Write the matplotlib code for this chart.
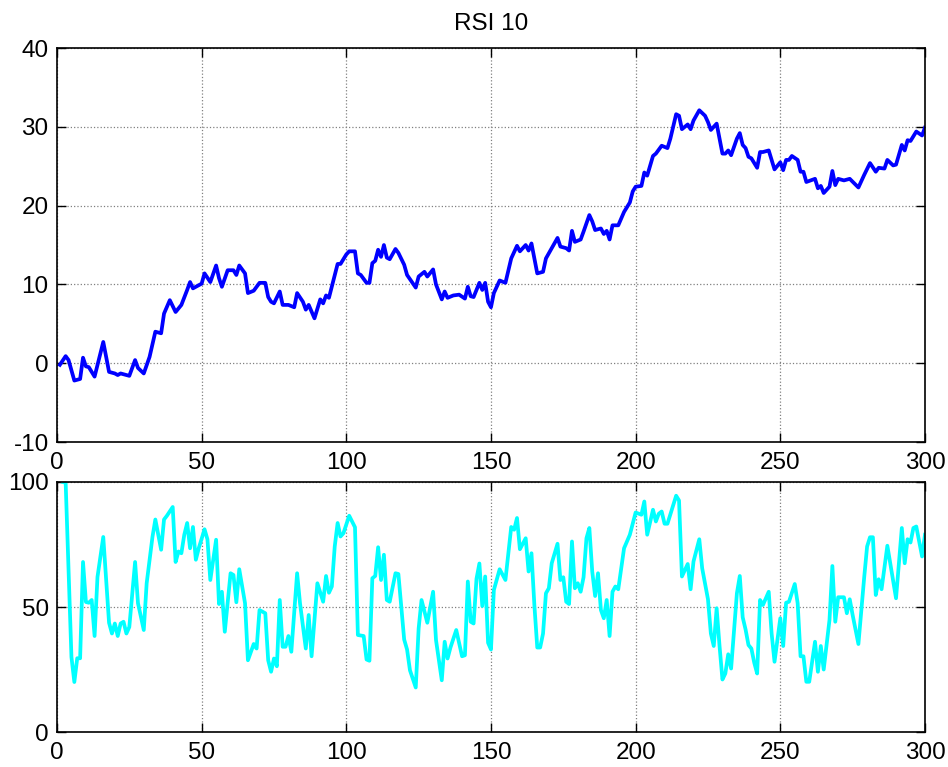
import numpy as np
import matplotlib
matplotlib.use("Agg")
import matplotlib.pyplot as plt

plt.rcParams['font.family'] = ['Liberation Sans', 'DejaVu Sans']
plt.rcParams['axes.unicode_minus'] = False

# price-like series (top panel)
price_t = [1, 3, 4, 6, 8, 9, 10, 11, 13, 16, 18, 20, 21, 22, 25, 27, 28, 30, 32, 34,
           36, 37, 39, 41, 43, 45, 46, 47, 50, 51, 53, 55, 56, 57, 59, 61, 62, 63, 65, 66,
           68, 70, 72, 73, 74, 75, 77, 78, 80, 82, 83, 85, 86, 87, 89, 91, 92, 93, 94, 96,
           97, 98, 100, 101, 103, 104, 105, 107, 108, 109, 110, 111, 112, 113, 114, 115, 117, 118, 120, 121,
           124, 125, 127, 128, 130, 131, 133, 134, 135, 137, 139, 141, 142, 143, 144, 146, 147, 148, 149, 150,
           151, 153, 155, 157, 159, 160, 162, 163, 164, 166, 168, 169, 171, 173, 174, 176, 177, 178, 179, 181,
           182, 184, 185, 186, 188, 189, 190, 191, 192, 194, 196, 198, 199, 200, 202, 203, 204, 206, 207, 209,
           211, 212, 214, 215, 216, 218, 219, 220, 222, 224, 225, 226, 228, 230, 231, 232, 233, 235, 236, 237,
           238, 239, 240, 242, 243, 244, 246, 248, 250, 251, 252, 253, 254, 256, 257, 258, 259, 262, 263, 264,
           265, 267, 268, 269, 270, 272, 274, 277, 279, 281, 283, 284, 286, 287, 289, 290, 292, 293, 294, 295,
           297, 299, 300]
price_v = [-0.2, 0.9, 0.4, -2.2, -2.0, 0.7, -0.4, -0.5, -1.7, 2.7, -1.1, -1.3, -1.5, -1.3, -1.6, 0.4, -0.6, -1.3, 0.8, 4.0,
           3.8, 6.3, 8.0, 6.5, 7.4, 9.3, 10.3, 9.5, 10.1, 11.4, 10.3, 12.4, 10.8, 9.7, 11.8, 11.8, 11.2, 12.4, 11.4, 8.9,
           9.2, 10.2, 10.2, 8.4, 7.8, 7.6, 9.1, 7.4, 7.4, 7.1, 8.9, 7.8, 6.8, 7.4, 5.7, 8.1, 7.6, 8.6, 8.3, 11.2,
           12.6, 12.6, 13.8, 14.2, 14.2, 11.4, 11.2, 10.2, 10.2, 12.7, 13.0, 14.4, 13.5, 15.0, 13.4, 13.2, 14.5, 14.0, 12.5, 11.2,
           9.6, 11.0, 11.6, 11.0, 11.9, 10.0, 8.1, 9.1, 8.3, 8.6, 8.7, 8.2, 9.7, 8.5, 8.4, 10.2, 9.3, 10.2, 7.8, 7.1,
           8.9, 10.5, 10.2, 13.3, 14.9, 14.2, 15.0, 14.3, 15.2, 11.4, 11.6, 13.3, 14.6, 15.9, 14.8, 14.6, 14.3, 16.8, 15.4, 15.7,
           16.7, 18.8, 18.0, 16.9, 17.1, 16.4, 16.8, 15.7, 17.5, 17.5, 19.2, 20.4, 21.8, 22.4, 22.5, 24.2, 23.8, 26.3, 26.6, 27.6,
           27.3, 28.5, 31.6, 31.4, 29.7, 30.3, 29.7, 30.8, 32.1, 31.4, 30.6, 29.6, 30.4, 26.6, 26.6, 27.0, 26.4, 28.5, 29.2, 27.7,
           27.3, 26.2, 26.0, 24.8, 26.8, 26.8, 27.0, 24.6, 25.5, 24.5, 25.8, 25.8, 26.3, 25.8, 24.3, 24.3, 23.0, 23.4, 22.2, 22.5,
           21.6, 22.4, 24.4, 22.6, 23.4, 23.2, 23.4, 22.3, 23.9, 25.4, 24.3, 24.8, 24.7, 25.8, 25.1, 25.2, 27.7, 27.0, 28.3, 28.2,
           29.4, 28.9, 29.9]

# RSI 10 (bottom panel)
rsi_t = [2, 3, 5, 6, 7, 8, 9, 10, 11, 12, 13, 14, 16, 18, 19, 20, 21, 22, 23, 24,
         25, 27, 28, 30, 31, 33, 34, 36, 37, 38, 40, 41, 42, 43, 44, 45, 46, 47, 48, 49,
         51, 52, 53, 55, 56, 57, 58, 60, 61, 62, 63, 65, 66, 68, 69, 70, 72, 73, 74, 75,
         76, 77, 78, 79, 80, 81, 83, 84, 86, 87, 88, 90, 92, 93, 94, 95, 96, 97, 98, 99,
         101, 103, 104, 106, 107, 108, 109, 110, 111, 112, 113, 114, 115, 117, 118, 120, 121, 122, 124, 125,
         126, 128, 130, 131, 133, 134, 135, 136, 138, 140, 141, 142, 143, 144, 145, 146, 147, 148, 149, 150,
         151, 153, 155, 157, 158, 159, 160, 162, 163, 164, 165, 166, 167, 168, 169, 170, 171, 173, 174, 175,
         176, 177, 178, 179, 180, 181, 182, 183, 184, 185, 186, 187, 188, 189, 190, 191, 192, 193, 194, 196,
         198, 200, 202, 203, 204, 206, 207, 208, 209, 210, 211, 214, 215, 216, 218, 219, 220, 222, 223, 225,
         226, 227, 228, 229, 230, 231, 232, 233, 235, 236, 237, 238, 239, 240, 241, 242, 243, 244, 246, 247,
         248, 250, 251, 252, 253, 255, 256, 257, 258, 259, 260, 261, 262, 263, 264, 265, 267, 268, 269, 270,
         272, 273, 274, 275, 277, 279, 280, 281, 282, 283, 284, 285, 287, 290, 292, 293, 294, 295, 296, 297,
         299, 300]
rsi_v = [100, 99.7, 30, 20, 29.5, 29.5, 68, 52, 51.7, 52.8, 38.4, 62, 78, 43.7, 39.4, 43.4, 38.4, 43.4, 44.1, 39.4,
         42, 68, 51.5, 40.8, 59.5, 78, 85, 72.9, 85, 86.5, 90, 68, 72.2, 71.5, 78.9, 83.6, 73.5, 82, 68.9, 73.5,
         81.1, 77.1, 60.8, 76.9, 51.2, 56.1, 40.1, 63.5, 62.8, 51.9, 65.1, 51.5, 28.7, 35.2, 33.4, 48.8, 47.5, 28.7, 24.1, 29.4,
         26.3, 52.8, 34.1, 34.1, 38.4, 32.1, 63.5, 51.5, 33.4, 46.8, 30.3, 59.5, 52.1, 62.4, 55.7, 58.2, 74.2, 83.6, 78.2, 79.5,
         86.5, 81.9, 38.8, 38.4, 29, 28.5, 61.5, 62.4, 73.9, 60.8, 70.9, 52.8, 52.1, 63.5, 63.2, 37, 33, 24.7, 17.8, 41.4,
         52.8, 43.7, 56.1, 36.8, 20.7, 36.1, 29.4, 33.8, 40.8, 30.3, 30.7, 60.2, 44.1, 43.4, 61.3, 67.4, 50.4, 62.2, 35.7, 33,
         56.8, 65.1, 60.8, 82, 80.9, 85.6, 73.1, 77.5, 64.2, 71.5, 50.8, 33.8, 33.8, 39.4, 55.5, 57.5, 67.5, 75.3, 60.8, 61.9,
         52.1, 51.2, 76.2, 57.5, 59.5, 56.1, 61.9, 77.5, 81.6, 64.2, 54.4, 63.5, 48.8, 45.5, 52.8, 38.4, 56.1, 58.2, 57.1, 73.5,
         78.9, 87.8, 86.9, 92.2, 78.9, 88.9, 84.2, 87.3, 88.2, 83.3, 83.3, 94.5, 92.6, 62.2, 67.2, 57.1, 68.2, 77.1, 65.5, 53.1,
         39.4, 34.4, 49.5, 34.4, 21, 23.4, 31.1, 25.4, 55.5, 62.4, 45.9, 41, 34.8, 33.4, 27.7, 23.4, 52.8, 50.8, 56.1, 39.4,
         28.1, 45.5, 34.4, 51.7, 52.1, 59.2, 51.5, 30.3, 30.3, 20.1, 20.1, 28.1, 36.1, 24.1, 34.4, 25, 44.8, 66.4, 44.1, 53.9,
         53.9, 47.5, 53.1, 46.8, 35.2, 61.9, 74.2, 77.9, 77.9, 54.8, 61.1, 57.1, 74.5, 53.5, 81.6, 67.5, 77.1, 75.8, 81.6, 82.2,
         70.2, 78.9]

top_yticks = [-10, 0, 10, 20, 30, 40]
bot_yticks = [0, 50, 100]
xticks = [0, 50, 100, 150, 200, 250, 300]

FS = 17.5


def style_axes(ax):
    ax.grid(True, color='#808080', linestyle=':', linewidth=0.9)
    ax.set_axisbelow(True)
    ax.tick_params(direction='in', length=6.5, width=1.0, top=True, right=True,
                   labelsize=FS, colors='black')
    ax.tick_params(axis='y', pad=6)
    ax.tick_params(axis='x', pad=7)
    for s in ax.spines.values():
        s.set_linewidth(1.2)
        s.set_color('black')


fig = plt.figure(figsize=(9.48, 7.67), dpi=100)
ax1 = fig.add_axes([0.0601, 0.4237, 0.9156, 0.5137])
ax2 = fig.add_axes([0.0601, 0.0456, 0.9156, 0.326])

ax1.plot(price_t, price_v, color=(0, 0, 1), linewidth=2.7)
ax1.set_xlim(0, 300)
ax1.set_ylim(-10, 40)
ax1.set_xticks(xticks)
ax1.set_yticks(top_yticks)
ax1.set_title('RSI 10', fontsize=FS, pad=13)
style_axes(ax1)

ax2.plot(rsi_t, rsi_v, color=(0, 1, 1), linewidth=2.7)
ax2.set_xlim(0, 300)
ax2.set_ylim(0, 100)
ax2.set_xticks(xticks)
ax2.set_yticks(bot_yticks)
style_axes(ax2)

fig.savefig('out.png', dpi=100)
